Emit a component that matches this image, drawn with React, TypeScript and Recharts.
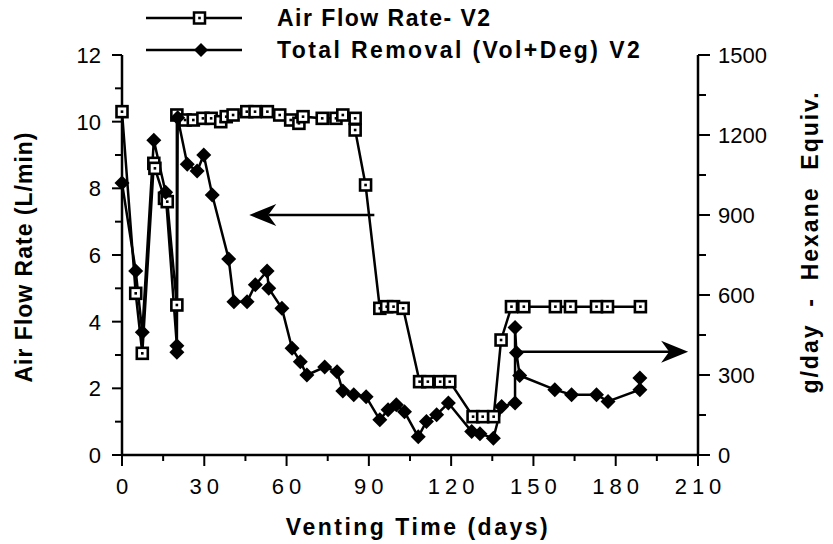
import React from 'react';
import { ComposedChart, Line, XAxis, YAxis, ReferenceLine } from 'recharts';

// Air flow rate (L/min) vs venting time (days)
const airDays = [0, 5, 7.4, 11.6, 12, 15.5, 16.5, 20, 20, 23, 26, 29.5, 32.5, 36, 38, 40.5, 45.5, 48.5, 53, 57.5, 61.5, 64.5, 66, 73, 78, 80.5, 85, 85, 88.8, 94, 96.5, 99, 102.5, 108.5, 111.5, 116, 119.5, 128, 131.5, 135.5, 138.2, 142, 146.5, 158, 163.5, 173, 177, 189];
const airFlow = [10.3, 4.85, 3.05, 8.75, 8.6, 7.7, 7.6, 4.5, 10.2, 10.05, 10.05, 10.1, 10.1, 10.0, 10.15, 10.2, 10.3, 10.3, 10.3, 10.2, 10.05, 9.95, 10.15, 10.1, 10.1, 10.2, 10.1, 9.75, 8.1, 4.4, 4.45, 4.45, 4.4, 2.2, 2.2, 2.2, 2.2, 1.15, 1.15, 1.15, 3.45, 4.45, 4.45, 4.45, 4.45, 4.45, 4.45, 4.45];

// Total removal (g/day hexane equiv.)
const removalDays = [0, 5, 7.4, 11.6, 15.9, 20, 20, 20.3, 23.8, 27.4, 29.8, 32.9, 38.9, 40.8, 45.6, 48.6, 52.9, 53.5, 58.3, 62, 65, 67.4, 73.9, 78.4, 80.5, 84.5, 89, 94, 97, 100, 103, 108, 111, 114.7, 119, 127.5, 130.5, 135.4, 138.4, 143.3, 143.3, 143.8, 145, 157.8, 163.9, 173, 177.2, 188.8, 188.8];
const removal = [1020, 690, 460, 1180, 985, 410, 385, 1265, 1090, 1065, 1125, 975, 735, 575, 575, 638, 690, 625, 550, 400, 350, 300, 330, 312, 240, 226, 218, 132, 170, 188, 162, 68, 126, 151, 195, 88, 80, 63, 182, 195, 478, 383, 298, 245, 226, 226, 201, 245, 289];

const xTicks = [0, 15, 30, 45, 60, 75, 90, 105, 120, 135, 150, 165, 180, 195, 210];
const leftTicks = [0, 1, 2, 3, 4, 5, 6, 7, 8, 9, 10, 11, 12];
const rightTicks = [0, 150, 300, 450, 600, 750, 900, 1050, 1200, 1350, 1500];
const seriesNames = ['Air Flow Rate- V2', 'Total Removal (Vol+Deg) V2'];

const airData = airDays.map((d, i) => ({ day: d, flow: airFlow[i] }));
const removalData = removalDays.map((d, i) => ({ day: d, removal: removal[i] }));

const FONT = '"Liberation Sans", Arial, Helvetica, sans-serif';

const SquareDot = (props: any) => {
  const { cx, cy, index } = props;
  if (cx == null || cy == null) return null;
  return (
    <g key={`sq-${index}`}>
      <rect x={cx - 5.5} y={cy - 5.5} width={11} height={11} fill="#fff" stroke="#000" strokeWidth={2.6} />
      <rect x={cx - 1.3} y={cy - 1.3} width={2.6} height={2.6} fill="#000" />
    </g>
  );
};

const DiamondDot = (props: any) => {
  const { cx, cy, index } = props;
  if (cx == null || cy == null) return null;
  return <polygon key={`dm-${index}`} points={`${cx},${cy - 7.5} ${cx + 7.5},${cy} ${cx},${cy + 7.5} ${cx - 7.5},${cy}`} fill="#000" />;
};

const XTick = ({ x, y, payload }: any) => {
  const v = payload.value;
  const major = v % 30 === 0;
  return (
    <g>
      <line x1={x} x2={x} y1={y} y2={y + (major ? 11 : 6)} stroke="#000" strokeWidth={2} />
      {major && (
        <text x={x + 2.5} y={y + 39} textAnchor="middle" fill="#000" style={{ fontFamily: FONT, fontSize: 22, letterSpacing: 5 }}>
          {v}
        </text>
      )}
    </g>
  );
};

const LeftTick = ({ x, y, payload }: any) => {
  const v = payload.value;
  const major = v % 2 === 0;
  return (
    <g>
      <line x1={x - (major ? 10 : 7)} x2={x} y1={y} y2={y} stroke="#000" strokeWidth={2} />
      {major && (
        <text x={x - 21} y={y + 8} textAnchor="end" fill="#000" style={{ fontFamily: FONT, fontSize: 22 }}>
          {v}
        </text>
      )}
    </g>
  );
};

const RightTick = ({ x, y, payload }: any) => {
  const v = payload.value;
  const major = v % 300 === 0;
  return (
    <g>
      <line x1={x} x2={x + (major ? 12 : 8)} y1={y} y2={y} stroke="#000" strokeWidth={2} />
      {major && (
        <text x={x + 20} y={y + 8} textAnchor="start" fill="#000" style={{ fontFamily: FONT, fontSize: 22 }}>
          {v}
        </text>
      )}
    </g>
  );
};

// arrow drawn on a reference segment
const Arrow = (props: any) => {
  const { x1, y1, x2, y2 } = props;
  const dir = x2 > x1 ? 1 : -1;
  const L = 27;
  const W = 11;
  const back = x2 - dir * (L - 8);
  return (
    <g>
      <line x1={x1} y1={y1} x2={back} y2={y2} stroke="#000" strokeWidth={2.5} />
      <polygon points={`${x2},${y2} ${x2 - dir * L},${y2 - W} ${back},${y2} ${x2 - dir * L},${y2 + W}`} fill="#000" />
    </g>
  );
};

const titleStyle = { fontFamily: FONT, fontSize: 23, fontWeight: 700, letterSpacing: 1.5 } as const;
const legendSpacing = [1.5, 2.4];

export default function App() {
  return (
    <div style={{ position: 'absolute', left: 0, top: 0, width: 833, height: 544, background: '#fff' }}>
      <ComposedChart width={833} height={544} margin={{ top: 55, right: 0, bottom: 0, left: 0 }}>
        <XAxis
          dataKey="day"
          type="number"
          domain={[0, 210]}
          ticks={xTicks}
          interval={0}
          height={89}
          tickSize={0}
          tickMargin={0}
          tickLine={false}
          axisLine={{ stroke: '#000', strokeWidth: 2.5 }}
          tick={<XTick />}
          label={{
            value: 'Venting Time (days)',
            content: (p: any) => (
              <text x={418} y={535} textAnchor="middle" fill="#000" style={{ ...titleStyle, letterSpacing: 2.5 }}>
                {p.value}
              </text>
            ),
          }}
        />
        <YAxis
          yAxisId="left"
          orientation="left"
          width={122}
          type="number"
          domain={[0, 12]}
          ticks={leftTicks}
          interval={0}
          tickSize={0}
          tickMargin={0}
          tickLine={false}
          axisLine={{ stroke: '#000', strokeWidth: 2.5 }}
          tick={<LeftTick />}
          label={{
            value: 'Air Flow Rate (L/min)',
            content: (p: any) => (
              <text x={32} y={257} transform="rotate(-90 32 257)" textAnchor="middle" fill="#000" style={{ ...titleStyle, letterSpacing: 1 }}>
                {p.value}
              </text>
            ),
          }}
        />
        <YAxis
          yAxisId="right"
          orientation="right"
          width={135}
          type="number"
          domain={[0, 1500]}
          ticks={rightTicks}
          interval={0}
          tickSize={0}
          tickMargin={0}
          tickLine={false}
          axisLine={{ stroke: '#000', strokeWidth: 2.5 }}
          tick={<RightTick />}
          label={{
            value: 'g/day  -  Hexane  Equiv.',
            content: (p: any) => (
              <text x={818} y={242} transform="rotate(-90 818 242)" textAnchor="middle" fill="#000" style={{ ...titleStyle, letterSpacing: 2, whiteSpace: 'pre' }}>
                {p.value}
              </text>
            ),
          }}
        />
        <ReferenceLine yAxisId="left" segment={[{ x: 92, y: 7.2 }, { x: 46.4, y: 7.2 }]} shape={<Arrow />} ifOverflow="visible" />
        <ReferenceLine yAxisId="left" segment={[{ x: 144.3, y: 3.1 }, { x: 206.4, y: 3.1 }]} shape={<Arrow />} ifOverflow="visible" />
        <Line
          yAxisId="left"
          data={airData}
          dataKey="flow"
          name={seriesNames[0]}
          type="linear"
          stroke="#000"
          strokeWidth={2.5}
          dot={SquareDot}
          activeDot={false}
          isAnimationActive={false}
        />
        <Line
          yAxisId="right"
          data={removalData}
          dataKey="removal"
          name={seriesNames[1]}
          type="linear"
          stroke="#000"
          strokeWidth={2.5}
          dot={DiamondDot}
          activeDot={false}
          isAnimationActive={false}
        />
      </ComposedChart>

      {/* legend */}
      <div style={{ position: 'absolute', left: 146, top: 2, fontFamily: FONT, color: '#000' }}>
        {seriesNames.map((name, i) => (
          <div key={name} style={{ display: 'flex', alignItems: 'center', height: 32 }}>
            <svg width={96} height={20} style={{ display: 'block' }}>
              <line x1={0} x2={96} y1={10} y2={10} stroke="#000" strokeWidth={2.5} />
              {i === 0 ? (
                <g>
                  <rect x={48} y={4.5} width={11} height={11} fill="#fff" stroke="#000" strokeWidth={2.5} />
                  <rect x={52.2} y={8.7} width={2.6} height={2.6} fill="#000" />
                </g>
              ) : (
                <polygon points="55,3 62,10 55,17 48,10" fill="#000" />
              )}
            </svg>
            <span style={{ marginLeft: 35, fontSize: 23, fontWeight: 700, letterSpacing: legendSpacing[i], whiteSpace: 'nowrap' }}>{name}</span>
          </div>
        ))}
      </div>
    </div>
  );
}
